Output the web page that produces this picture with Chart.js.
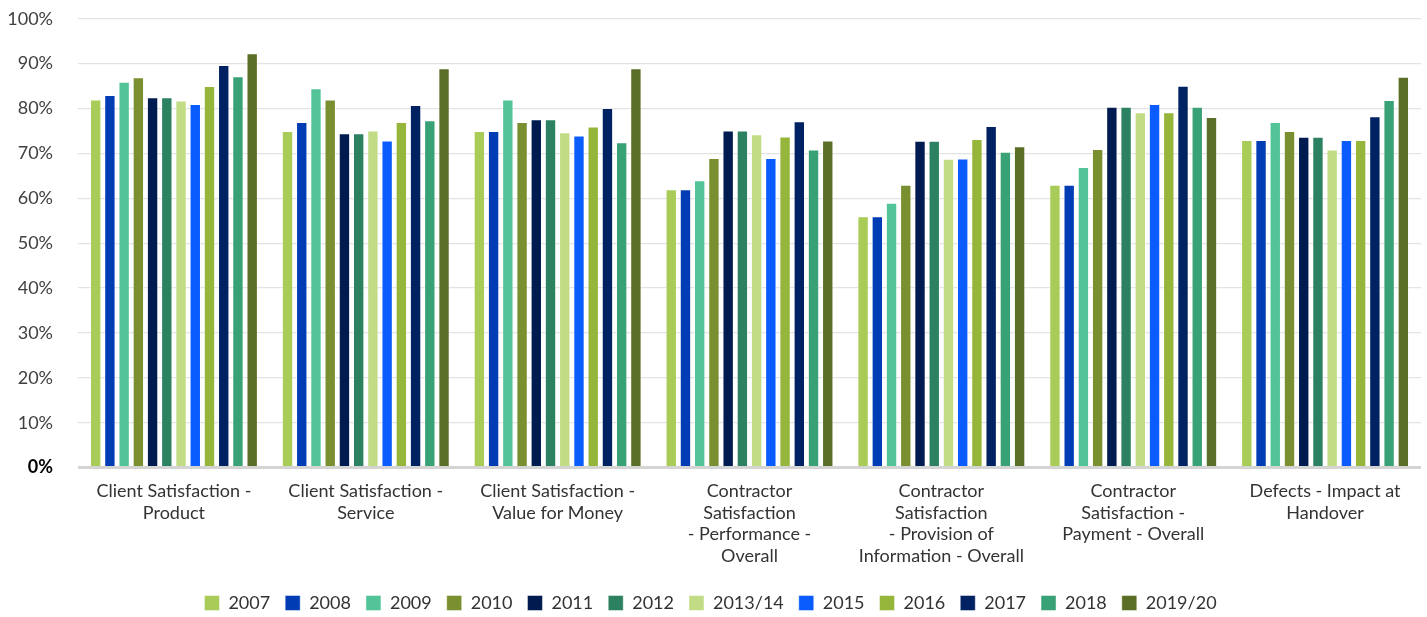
<!DOCTYPE html>
<html>
<head>
<meta charset="utf-8">
<script src="https://cdn.jsdelivr.net/npm/chart.js@4"></script>
<style>
  html, body { margin: 0; padding: 0; background: #fff; overflow: hidden; }
  #wrap { width: 1427px; height: 639px; position: relative; top: -17px; }
</style>
</head>
<body>
<div id="wrap"><canvas id="satChart"></canvas></div>
<script>
// --- Data ---
const categories = [
    ['Client Satisfaction -', 'Product'],
    ['Client Satisfaction -', 'Service'],
    ['Client Satisfaction -', 'Value for Money'],
    ['Contractor', 'Satisfaction', '- Performance -', 'Overall'],
    ['Contractor', 'Satisfaction', '- Provision of', 'Information - Overall'],
    ['Contractor', 'Satisfaction -', 'Payment - Overall'],
    ['Defects - Impact at', 'Handover']
];

const years = ['2007', '2008', '2009', '2010', '2011', '2012', '2013/14', '2015', '2016', '2017', '2018', '2019/20'];

const v2007   = [82, 75, 75, 62, 56, 63, 73];
const v2008   = [83, 77, 75, 62, 56, 63, 73];
const v2009   = [86, 84.5, 82, 64, 59, 67, 77];
const v2010   = [87, 82, 77, 69, 63, 71, 75];
const v2011   = [82.5, 74.5, 77.6, 75.1, 72.8, 80.4, 73.7];
const v2012   = [82.5, 74.5, 77.6, 75.1, 72.8, 80.4, 73.7];
const v2013   = [81.8, 75.1, 74.7, 74.3, 68.8, 79.2, 70.9];
const v2015   = [81, 72.9, 74, 69, 68.9, 81, 73];
const v2016   = [85, 77, 76, 73.8, 73.2, 79.2, 73];
const v2017   = [89.7, 80.8, 80.1, 77.2, 76.1, 85.1, 78.3];
const v2018   = [87.2, 77.4, 72.5, 70.9, 70.4, 80.4, 81.9];
const v2019   = [92.3, 89, 89, 72.9, 71.6, 78.1, 87.1];

const yTicks = [0, 10, 20, 30, 40, 50, 60, 70, 80, 90, 100];

const seriesValues = [v2007, v2008, v2009, v2010, v2011, v2012, v2013, v2015, v2016, v2017, v2018, v2019];

// palette per year
const colors = ['#A9CB57', '#003DB5', '#52C497', '#7A8F2F', '#001B4F', '#2C8160',
                '#C2DC86', '#0A5CFF', '#95B63A', '#002162', '#39A176', '#5A6E25'];

const fontFamily = '"Source Sans Pro", Lato, "Open Sans", sans-serif';
Chart.defaults.font.family = fontFamily;
Chart.defaults.color = '#404040';

const datasets = years.map((y, i) => ({
    label: y,
    data: seriesValues[i],
    backgroundColor: colors[i],
    borderColor: 'rgba(255,255,255,0.45)',
    borderWidth: 1,
    categoryPercentage: 0.89,
    barPercentage: 0.8
}));

new Chart(document.getElementById('satChart'), {
    type: 'bar',
    data: { labels: categories, datasets: datasets },
    options: {
        responsive: true,
        maintainAspectRatio: false,
        animation: false,
        layout: { padding: { top: 0, right: 6, left: 0, bottom: 0 } },
        plugins: {
            legend: {
                position: 'bottom',
                labels: {
                    boxWidth: 15,
                    boxHeight: 15,
                    padding: 15,
                    color: '#333',
                    font: { size: 18 }
                }
            },
            tooltip: { enabled: false }
        },
        scales: {
            y: {
                min: 0,
                max: 100,
                afterBuildTicks: axis => { axis.ticks = yTicks.map(v => ({ value: v })); },
                afterFit: axis => { axis.width = 78; },
                border: { display: false },
                grid: {
                    color: ctx => ctx.tick && ctx.tick.value === 0 ? '#d4d4d4' : '#e3e3e3',
                    lineWidth: ctx => ctx.tick && ctx.tick.value === 0 ? 3 : 1.3,
                    drawTicks: false
                },
                ticks: {
                    padding: 25,
                    color: ctx => ctx.tick && ctx.tick.value === 0 ? '#000' : '#404040',
                    font: ctx => ({ size: 18, weight: ctx.tick && ctx.tick.value === 0 ? 'bold' : 'normal' }),
                    callback: v => v + '%'
                }
            },
            x: {
                border: { display: false },
                grid: { display: false },
                afterFit: axis => { axis.height += 7; },
                ticks: {
                    color: '#333',
                    font: { size: 18, lineHeight: 1.2 },
                    maxRotation: 0,
                    autoSkip: false,
                    padding: 5
                }
            }
        }
    }
});
</script>
</body>
</html>
